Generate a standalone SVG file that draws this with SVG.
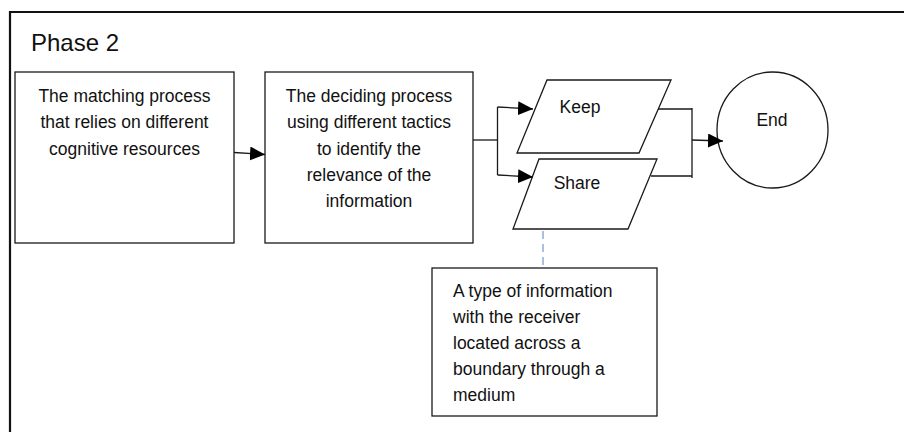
<svg xmlns="http://www.w3.org/2000/svg" width="904" height="432" viewBox="0 0 904 432">
<style>
.box{fill:#fff;stroke:#1a1a1a;stroke-width:1.3}
.t{font-family:"Liberation Sans",Arial,sans-serif;font-size:17.5px;fill:#111}
.c{text-anchor:middle}
.ln{fill:none;stroke:#1a1a1a;stroke-width:1.3}
</style>
<defs>
<marker id="ah" markerWidth="15" markerHeight="14" refX="15" refY="7" orient="auto" markerUnits="userSpaceOnUse">
<path d="M0,0 L15,7 L0,14 Z" fill="#000"/>
</marker>
</defs>
<rect width="904" height="432" fill="#fff"/>
<g id="frame">
<path d="M10,432 V12 H904" fill="none" stroke="#111" stroke-width="2.2"/>
<text x="31" y="51" class="t" style="font-size:24px">Phase 2</text>
</g>
<g id="matching">
<rect class="box" x="15" y="72" width="219" height="171"/>
<text class="t c" x="124.5" y="102">The matching process</text>
<text class="t c" x="124.5" y="128">that relies on different</text>
<text class="t c" x="124.5" y="155">cognitive resources</text>
</g>
<g id="deciding">
<rect class="box" x="265" y="72" width="208" height="171"/>
<text class="t c" x="369" y="102">The deciding process</text>
<text class="t c" x="369" y="128">using different tactics</text>
<text class="t c" x="369" y="155">to identify the</text>
<text class="t c" x="369" y="181">relevance of the</text>
<text class="t c" x="369" y="207">information</text>
</g>
<g id="keep">
<polygon class="box" points="547,80 671,80 639,153 517,153"/>
<text class="t c" x="580" y="113">Keep</text>
</g>
<g id="share">
<polygon class="box" points="539,159 657,159 628,229 513,229"/>
<text class="t c" x="577" y="189">Share</text>
</g>
<g id="end">
<ellipse class="box" cx="772.5" cy="130" rx="55.5" ry="58"/>
<text class="t c" x="772" y="126">End</text>
</g>
<g id="note">
<rect class="box" x="432" y="268" width="225" height="148"/>
<text class="t" x="453" y="297">A type of information</text>
<text class="t" x="453" y="323">with the receiver</text>
<text class="t" x="453" y="349">located across a</text>
<text class="t" x="453" y="375">boundary through a</text>
<text class="t" x="453" y="401">medium</text>
</g>
<g id="connectors">
<line class="ln" x1="234" y1="152.5" x2="265" y2="154.5" marker-end="url(#ah)"/>
<path class="ln" d="M473,140 H497.5"/>
<path class="ln" d="M497.5,107 V175"/>
<line class="ln" x1="497.5" y1="107" x2="533" y2="109" marker-end="url(#ah)"/>
<line class="ln" x1="497.5" y1="175" x2="533" y2="177" marker-end="url(#ah)"/>
<path class="ln" d="M658,109 H692 M651,176 H692 M692,108 V178"/>
<line class="ln" x1="692" y1="140" x2="723" y2="141" marker-end="url(#ah)"/>
<line x1="543" y1="231" x2="543" y2="268" stroke="#7f9fcf" stroke-width="1.3" stroke-dasharray="8,5"/>
</g>
</svg>
